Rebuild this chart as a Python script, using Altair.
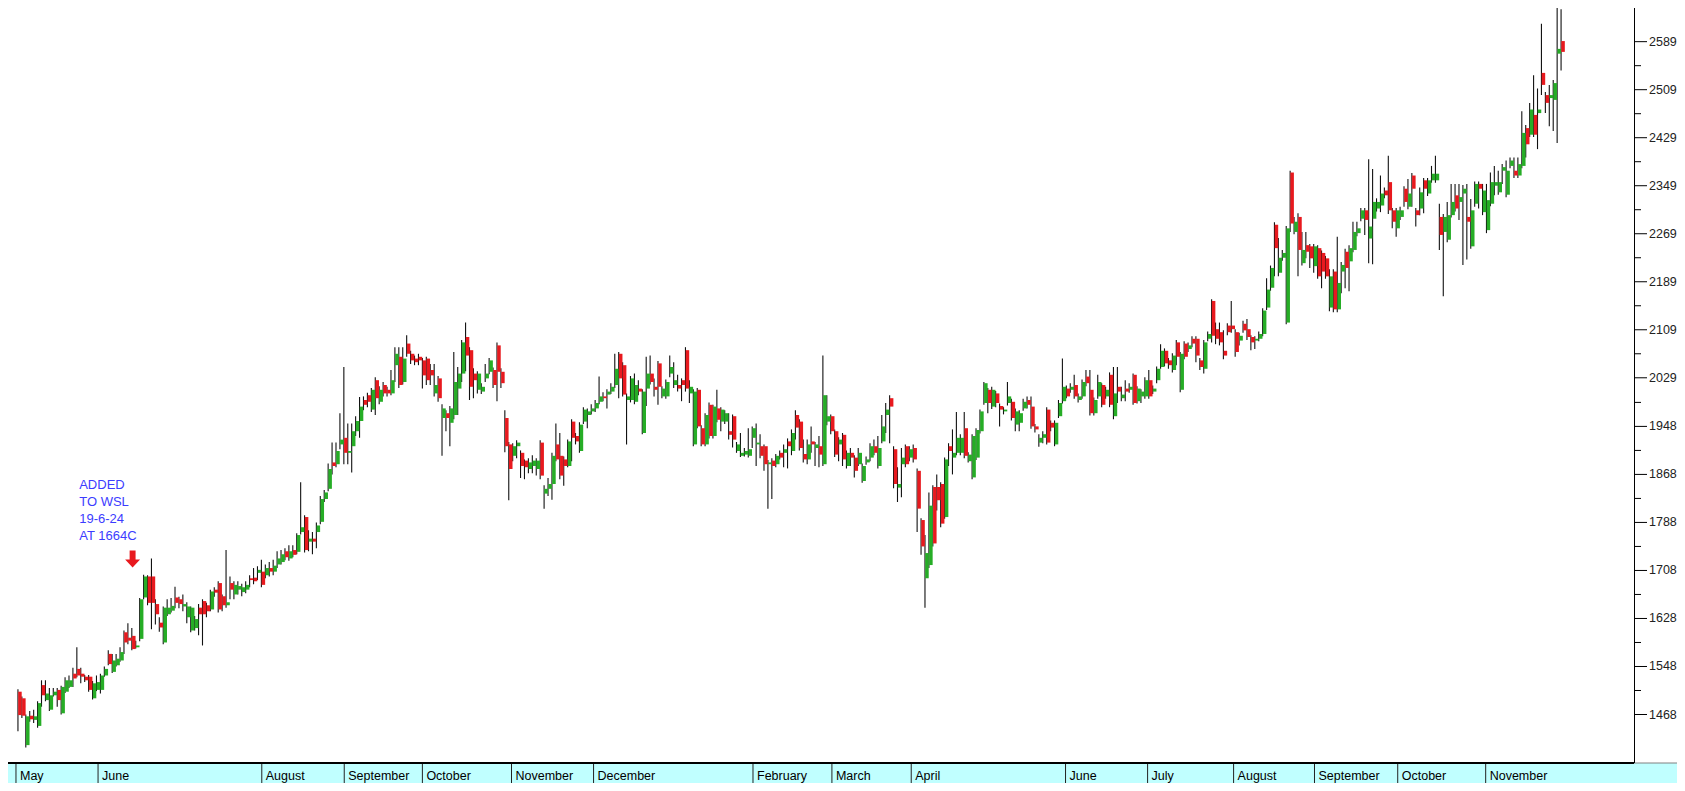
import altair as alt
import pandas as pd

# ---- candles (open, high, low, close), grouped by month band ----
may_2024 = [
    (1506,1510,1440,1467),(1495,1498,1462,1466),(1417,1468,1413,1465),(1466,1474,1456,1460),
    (1459,1476,1454,1465),(1449,1490,1446,1487),(1517,1525,1481,1500),(1492,1525,1490,1503),
    (1476,1512,1474,1500),(1500,1512,1498,1506),(1509,1512,1481,1492),(1470,1516,1468,1514),
    (1506,1530,1504,1525),(1514,1533,1512,1525),(1536,1546,1514,1528),(1544,1580,1530,1533),
    (1536,1546,1520,1531),(1531,1534,1522,1525),(1531,1534,1506,1509),(1495,1524,1493,1520),
    (1509,1533,1507,1522),
]
jun_jul_2024 = [
    (1509,1536,1503,1533),(1533,1548,1531,1544),(1569,1575,1550,1552),(1539,1569,1537,1558),
    (1550,1569,1548,1561),(1558,1580,1556,1572),(1605,1608,1569,1588),(1596,1620,1585,1591),
    (1599,1612,1575,1577),(1580,1591,1578,1583),(1594,1662,1590,1660),(1663,1701,1660,1698),
    (1698,1700,1650,1654),(1698,1728,1610,1654),(1652,1660,1618,1635),(1621,1630,1606,1613),
    (1588,1648,1585,1646),(1635,1660,1632,1646),(1641,1662,1638,1649),(1663,1681,1645,1654),
    (1660,1664,1645,1652),(1648,1668,1640,1652),(1630,1655,1620,1648),(1608,1648,1605,1646),
    (1612,1632,1608,1627),(1646,1652,1600,1635),(1657,1660,1583,1635),(1650,1654,1630,1640),
    (1643,1676,1640,1673),(1676,1680,1664,1671),(1687,1690,1638,1643),(1665,1668,1640,1650),
    (1650,1742,1646,1655),(1687,1698,1660,1676),(1668,1690,1660,1684),(1676,1690,1668,1682),
    (1672,1686,1665,1680),(1676,1690,1670,1684),(1695,1700,1680,1692),(1696,1712,1685,1690),
    (1704,1715,1692,1709),(1706,1726,1680,1684),
]
aug_2024 = [
    (1700,1718,1695,1712),(1712,1722,1698,1706),(1706,1726,1700,1716),(1718,1740,1712,1728),
    (1722,1742,1718,1735),(1740,1745,1725,1730),(1728,1750,1724,1740),(1742,1750,1730,1734),
    (1739,1770,1735,1767),(1772,1855,1768,1780),(1797,1800,1738,1742),(1756,1775,1740,1761),
    (1761,1772,1735,1756),(1772,1788,1745,1783),(1789,1832,1785,1827),(1827,1842,1822,1838),
    (1844,1886,1840,1877),(1888,1921,1868,1882),(1885,1921,1880,1907),(1918,1970,1910,1926),
    (1929,2047,1885,1904),
]
sep_2024 = [
    (1904,1953,1885,1907),(1915,1953,1871,1940),(1940,1965,1932,1957),(1957,1997,1929,1981),
    (1992,1998,1975,1984),(2000,2004,1980,1989),(1976,2012,1972,2009),(2025,2030,1967,1995),
    (1989,2015,1985,2009),(2017,2022,1998,2003),(2009,2014,1998,2003),(2003,2042,2000,2025),
    (2050,2080,2022,2069),(2064,2080,2012,2017),(2022,2080,2018,2061),(2086,2100,2064,2069),
    (2069,2074,2052,2058),(2061,2066,2050,2055),(2064,2069,2050,2058),
]
oct_2024 = [
    (2058,2062,2011,2033),(2061,2064,2017,2025),(2042,2052,2017,2033),(2003,2052,1998,2017),
    (2028,2032,1989,1995),(1962,1985,1899,1978),(1970,1975,1940,1962),(1954,1982,1915,1978),
    (1967,2072,1960,2022),(2011,2047,1967,2036),(2036,2092,2022,2088),(2097,2121,2040,2066),
    (2075,2080,1992,2014),(2036,2045,1995,2025),(2009,2040,2003,2036),(2006,2020,2002,2014),
    (2028,2052,2022,2036),(2039,2062,2035,2058),(2042,2046,2012,2017),(2083,2088,1990,2039),
    (2039,2045,2012,2020),(1962,1975,1905,1915),(1918,1922,1825,1877),
]
nov_2024 = [
    (1899,1920,1890,1915),(1915,1925,1895,1921),(1904,1908,1862,1882),(1891,1893,1860,1880),
    (1877,1895,1870,1888),(1882,1900,1870,1891),(1877,1895,1866,1891),(1921,1925,1860,1866),
    (1836,1850,1811,1844),(1844,1862,1832,1852),(1852,1904,1826,1899),(1918,1953,1890,1893),
    (1899,1937,1860,1866),(1893,1898,1849,1882),(1882,1926,1880,1923),(1956,1960,1890,1929),
    (1932,1937,1918,1923),(1907,1955,1904,1951),(1956,1980,1952,1976),(1967,1978,1945,1973),
    (1973,1985,1968,1978),
]
dec_jan = [
    (1978,1992,1972,1987),(1989,2031,1985,1998),(1998,2005,1990,1995),(2001,2010,1978,2006),
    (2006,2020,2002,2014),(2017,2069,2012,2044),(2069,2072,1995,2028),(2050,2055,1998,2001),
    (1992,2003,1918,1998),(1992,2032,1988,2028),(1989,2036,1985,2017),(2011,2025,2000,2006),
    (1937,2010,1935,2006),(2011,2064,1982,2036),(2036,2066,2018,2022),(2014,2028,1998,2009),
    (2053,2057,1984,2014),(1998,2015,1995,2011),(1998,2026,1994,2022),(2036,2066,2030,2047),
    (2017,2055,2012,2025),(2017,2034,2006,2011),(2025,2028,1990,2017),(2075,2080,2006,2011),
    (2003,2025,1987,2014),(1918,2010,1915,2006),(2009,2012,1945,1948),(1945,1950,1915,1918),
    (1918,1970,1915,1967),(1984,1988,1928,1932),(1932,1984,1928,1981),(1978,2009,1955,1959),
    (1956,1980,1940,1976),(1956,1975,1952,1970),(1940,1970,1926,1934),(1965,1968,1913,1926),
    (1907,1922,1904,1918),(1899,1937,1897,1904),(1901,1912,1898,1907),(1899,1945,1896,1910),
]
feb_2025 = [
    (1929,1948,1912,1945),(1918,1953,1882,1921),(1915,1935,1895,1899),(1915,1918,1874,1885),
    (1885,1892,1811,1888),(1891,1895,1827,1882),(1885,1902,1880,1899),(1904,1908,1893,1896),
    (1904,1918,1880,1910),(1923,1928,1878,1915),(1907,1943,1900,1937),(1967,1975,1926,1946),
    (1956,1960,1908,1912),(1902,1926,1888,1893),(1893,1926,1885,1918),(1923,1948,1904,1918),
    (1912,1922,1882,1918),(1915,1932,1880,1901),(1885,2066,1882,2000),(1956,2000,1950,1965),
]
mar_2025 = [
    (1965,1968,1935,1940),(1940,1943,1897,1901),(1918,1930,1890,1926),(1934,1937,1882,1893),
    (1882,1908,1878,1904),(1904,1912,1882,1896),(1896,1900,1863,1874),(1885,1912,1882,1904),
    (1857,1886,1854,1882),(1888,1898,1884,1893),(1896,1920,1890,1915),(1915,1926,1900,1904),
    (1882,1932,1878,1912),(1923,1967,1920,1948),(1967,1987,1937,1976),(1995,2000,1920,1981),
    (1910,1915,1845,1852),(1846,1880,1822,1852),(1885,1912,1830,1896),(1915,1918,1880,1885),
    (1896,1915,1890,1910),
]
apr_may_2025 = [
    (1912,1918,1888,1893),(1874,1878,1772,1811),(1792,1795,1734,1748),(1695,1767,1646,1737),
    (1717,1838,1712,1816),(1847,1850,1748,1753),(1847,1868,1808,1825),(1852,1855,1780,1786),
    (1797,1896,1794,1893),(1915,1920,1882,1907),(1896,1943,1868,1904),(1904,1972,1900,1929),
    (1904,1935,1900,1929),(1945,1972,1895,1899),(1890,1905,1888,1901),(1863,1935,1860,1932),
    (1896,1945,1892,1942),(1940,1976,1936,1973),(1987,2022,1984,2020),(2009,2012,1970,1987),
    (1981,2014,1977,2009),(2003,2007,1980,1987),(1982,1986,1948,1976),(1973,1980,1968,1976),
    (1987,2022,1983,1998),(1989,1994,1958,1962),(1951,1978,1940,1973),(1954,1975,1940,1970),
    (1978,1994,1974,1989),(1992,1998,1978,1984),(1981,1998,1944,1948),(1948,1952,1938,1943),
    (1921,1935,1914,1929),(1929,1940,1920,1935),(1976,1980,1918,1921),(1954,1958,1940,1946),
    (1918,1958,1915,1954),(1965,1992,1962,1987),(1990,2061,1986,2014),
]
jun_2025 = [
    (2011,2016,1995,1998),(2009,2020,2004,2014),(2017,2034,1994,1998),(1992,2003,1988,1998),
    (1998,2026,1994,2022),(2031,2042,2015,2020),(2009,2042,1966,1970),(1970,1996,1966,1992),
    (1998,2034,1994,2022),(2017,2020,1980,1984),(1998,2014,1994,2009),(2034,2038,1980,1984),
    (1965,2047,1960,2003),(2014,2047,1987,2006),(1995,2014,1990,2001),(2011,2025,1990,2006),
    (2009,2020,2004,2014),(2034,2036,1984,1987),(1990,2015,1986,2011),(1998,2010,1987,2006),
    (1998,2030,1994,2025),
]
jul_2025 = [
    (2025,2042,1994,1998),(2006,2016,2002,2011),(2025,2048,2020,2044),(2047,2085,2044,2074),
    (2074,2078,2048,2053),(2058,2062,2044,2050),(2042,2070,2038,2066),(2088,2092,2050,2064),
    (2009,2072,2005,2069),(2086,2090,2060,2064),(2077,2088,2072,2083),(2094,2098,2080,2086),
    (2094,2098,2055,2066),(2058,2062,2042,2047),(2044,2092,2036,2088),(2094,2106,2090,2102),
    (2157,2160,2088,2099),(2110,2121,2085,2094),(2105,2121,2083,2088),(2074,2108,2060,2066),
    (2116,2120,2100,2105),(2116,2157,2104,2110),
]
aug_2025 = [
    (2105,2110,2064,2072),(2091,2104,2083,2099),(2119,2124,2104,2108),(2110,2127,2092,2097),
    (2097,2100,2075,2088),(2091,2098,2077,2094),(2094,2106,2090,2102),(2102,2145,2098,2141),
    (2146,2195,2142,2176),(2179,2216,2174,2212),(2284,2288,2198,2245),(2204,2262,2198,2229),
    (2229,2242,2224,2237),(2121,2282,2118,2278),(2371,2374,2272,2286),(2272,2297,2268,2289),
    (2297,2303,2198,2242),(2220,2272,2216,2242),(2250,2272,2228,2239),(2248,2252,2212,2228),
    (2215,2252,2204,2248),
]
sep_2025 = [
    (2245,2250,2194,2198),(2237,2241,2178,2206),(2228,2232,2194,2198),(2146,2210,2140,2198),
    (2206,2210,2138,2143),(2143,2264,2138,2187),(2206,2222,2170,2217),(2239,2244,2178,2212),
    (2223,2250,2173,2245),(2242,2289,2238,2272),(2270,2289,2265,2278),(2294,2312,2290,2308),
    (2308,2312,2267,2292),(2261,2393,2220,2281),(2294,2377,2218,2322),(2311,2328,2306,2322),
    (2316,2366,2305,2336),(2341,2346,2328,2333),(2355,2399,2302,2308),(2308,2312,2278,2289),
    (2278,2312,2264,2308),
]
oct_2025 = [
    (2297,2314,2292,2308),(2344,2348,2314,2322),(2314,2360,2310,2336),(2366,2370,2314,2344),
    (2308,2312,2281,2300),(2311,2346,2300,2338),(2358,2362,2303,2344),(2336,2362,2332,2358),
    (2358,2382,2354,2369),(2358,2399,2354,2369),(2297,2319,2242,2267),(2272,2302,2165,2297),
    (2259,2322,2255,2300),(2300,2352,2296,2322),(2333,2352,2306,2311),(2322,2352,2292,2330),
    (2336,2350,2217,2344),(2297,2352,2226,2289),(2248,2327,2244,2308),(2319,2356,2314,2352),
    (2352,2356,2311,2344),(2305,2352,2300,2341),
]
nov_2025 = [
    (2275,2352,2270,2325),(2319,2371,2315,2355),(2349,2382,2333,2355),(2338,2374,2334,2355),
    (2374,2385,2352,2380),(2334,2391,2330,2374),(2382,2396,2378,2391),(2374,2396,2362,2366),
    (2366,2396,2362,2385),(2382,2473,2378,2437),(2445,2450,2396,2418),(2434,2487,2430,2476),
    (2467,2533,2430,2434),(2470,2511,2410,2476),(2537,2619,2500,2517),(2500,2505,2470,2487),
    (2495,2517,2448,2500),(2492,2525,2440,2520),(2569,2651,2420,2577),(2590,2643,2541,2572),
]

# ---- axis / band / annotation content ----
month_labels = ["May", "June", "August", "September", "October", "November", "December",
                "February", "March", "April", "June", "July", "August", "September",
                "October", "November"]
month_starts = [-0.5, 20.4, 62.1, 83.1, 103.0, 125.7, 146.6, 187.2, 207.3, 227.5,
                266.8, 287.7, 309.6, 330.2, 351.4, 373.8]
major_ticks = [1468, 1548, 1628, 1708, 1788, 1868, 1948, 2029, 2109, 2189, 2269,
               2349, 2429, 2509, 2589]
minor_ticks = [1508, 1588, 1668, 1748, 1828, 1908, 1988, 2069, 2149, 2229, 2309,
               2389, 2469, 2549]
note_lines = ["ADDED", "TO WSL", "19-6-24", "AT 1664C"]
note_prices = [1850, 1822, 1793, 1765]
note_day = [15.6, 15.6, 15.6, 15.6]
arrow_day = [29.2]
arrow_price = [1727]

# ---- table ----
blocks = [may_2024, jun_jul_2024, aug_2024, sep_2024, oct_2024, nov_2024, dec_jan,
          feb_2025, mar_2025, apr_may_2025, jun_2025, jul_2025, aug_2025, sep_2025,
          oct_2025, nov_2025]
rows = [c for b in blocks for c in b]
df = pd.DataFrame(rows, columns=["open", "high", "low", "close"])
df["i"] = range(len(df))
df["dir"] = ["up" if c >= o else "down" for o, c in zip(df["open"], df["close"])]
df["body_top"] = df[["open", "close"]].max(axis=1)
df["body_bot"] = df[["open", "close"]].min(axis=1)
thin = (df["body_top"] - df["body_bot"]) < 3
df.loc[thin, "body_top"] = df.loc[thin, "body_bot"] + 3
df["high"] = df[["high", "body_top"]].max(axis=1)
df["low"] = df[["low", "body_bot"]].min(axis=1)

months = pd.DataFrame({"start": month_starts, "label": month_labels})
minor_df = pd.DataFrame({"v": minor_ticks})
major_df = pd.DataFrame({"v": major_ticks})
note_df = pd.DataFrame({"t": note_lines, "p": note_prices, "i": note_day})
arrow_df = pd.DataFrame({"i": arrow_day, "p": arrow_price})

# ---- layout ----
W, H, BAND, RIGHT = 1626, 755, 20, 43
FONT = "Liberation Sans"
GREEN, RED = "#26ad26", "#e8191e"
xscale = alt.Scale(domain=[-1.26, 410.3], nice=False, zero=False)
yscale = alt.Scale(domain=[1387.2, 2645.1], nice=False, zero=False)
x_enc = alt.X("i:Q", scale=xscale, axis=None)

one = pd.DataFrame({"k": [0]})
band = alt.Chart(one).mark_rect(color="#c0ffff").encode(
    x=alt.value(0), x2=alt.value(W + RIGHT), y=alt.value(H), y2=alt.value(H + BAND))
top_line = alt.Chart(one).mark_rule(color="#000000", strokeWidth=2).encode(
    x=alt.value(0), x2=alt.value(W), y=alt.value(H))
top_line_r = alt.Chart(one).mark_rule(color="#808080", strokeWidth=1).encode(
    x=alt.value(W), x2=alt.value(W + RIGHT), y=alt.value(H))

seps = alt.Chart(months).mark_rule(color="#222222", strokeWidth=1).encode(
    x=alt.X("start:Q", scale=xscale, axis=None), y=alt.value(H), y2=alt.value(H + BAND))
month_text = alt.Chart(months).mark_text(
    align="left", baseline="middle", dx=4, font=FONT, fontSize=12.5, color="#000000"
).encode(x=alt.X("start:Q", scale=xscale, axis=None), y=alt.value(H + 13), text="label:N")

# right-hand price axis: domain line, major ticks, labels, minor ticks
axis_line = alt.Chart(one).mark_rule(color="#000000", strokeWidth=1).encode(
    x=alt.value(W + 0.5), y=alt.value(0), y2=alt.value(H))
major = alt.Chart(major_df).mark_rule(color="#000000", strokeWidth=1).encode(
    y=alt.Y("v:Q", scale=yscale, axis=None), x=alt.value(W), x2=alt.value(W + 13))
major_lbl = alt.Chart(major_df).mark_text(
    align="left", baseline="middle", dx=2, font=FONT, fontSize=12.5, color="#222222"
).encode(y=alt.Y("v:Q", scale=yscale, axis=None), x=alt.value(W + 13),
         text=alt.Text("v:Q", format="d"))
minor = alt.Chart(minor_df).mark_rule(color="#000000", strokeWidth=1).encode(
    y=alt.Y("v:Q", scale=yscale, axis=None), x=alt.value(W), x2=alt.value(W + 7))

base = alt.Chart(df)
wicks = base.mark_rule(color="#111111", strokeWidth=1.1).encode(
    x=x_enc, y=alt.Y("low:Q", scale=yscale, axis=None), y2="high:Q")
bodies = base.mark_bar(size=3.5, xOffset=2).encode(
    x=x_enc,
    y=alt.Y("body_bot:Q", scale=yscale, axis=None),
    y2="body_top:Q",
    color=alt.Color("dir:N", scale=alt.Scale(domain=["up", "down"], range=[GREEN, RED]),
                    legend=None),
)

note = alt.Chart(note_df).mark_text(
    align="left", baseline="middle", font=FONT, fontSize=13, color="#3c3cff"
).encode(x=alt.X("i:Q", scale=xscale, axis=None),
         y=alt.Y("p:Q", scale=yscale, axis=None), text="t:N")

ARROW = "M-0.35,-1L0.35,-1L0.35,0.06L0.88,0.06L0,1L-0.88,0.06L-0.35,0.06Z"
arrow = alt.Chart(arrow_df).mark_point(
    shape=ARROW, size=289, filled=True, color=RED, opacity=1, strokeWidth=0
).encode(x=alt.X("i:Q", scale=xscale, axis=None), y=alt.Y("p:Q", scale=yscale, axis=None))

chart = alt.layer(
    band, seps, month_text, top_line, top_line_r, wicks, bodies,
    axis_line, major, major_lbl, minor, note, arrow
).properties(
    width=W, height=H,
    padding={"left": 0, "top": 0, "right": RIGHT, "bottom": BAND},
    autosize=alt.AutoSizeParams(type="none"),
).configure_view(strokeWidth=0)

chart.save("out.html", embed_options={"renderer": "svg", "actions": False})
